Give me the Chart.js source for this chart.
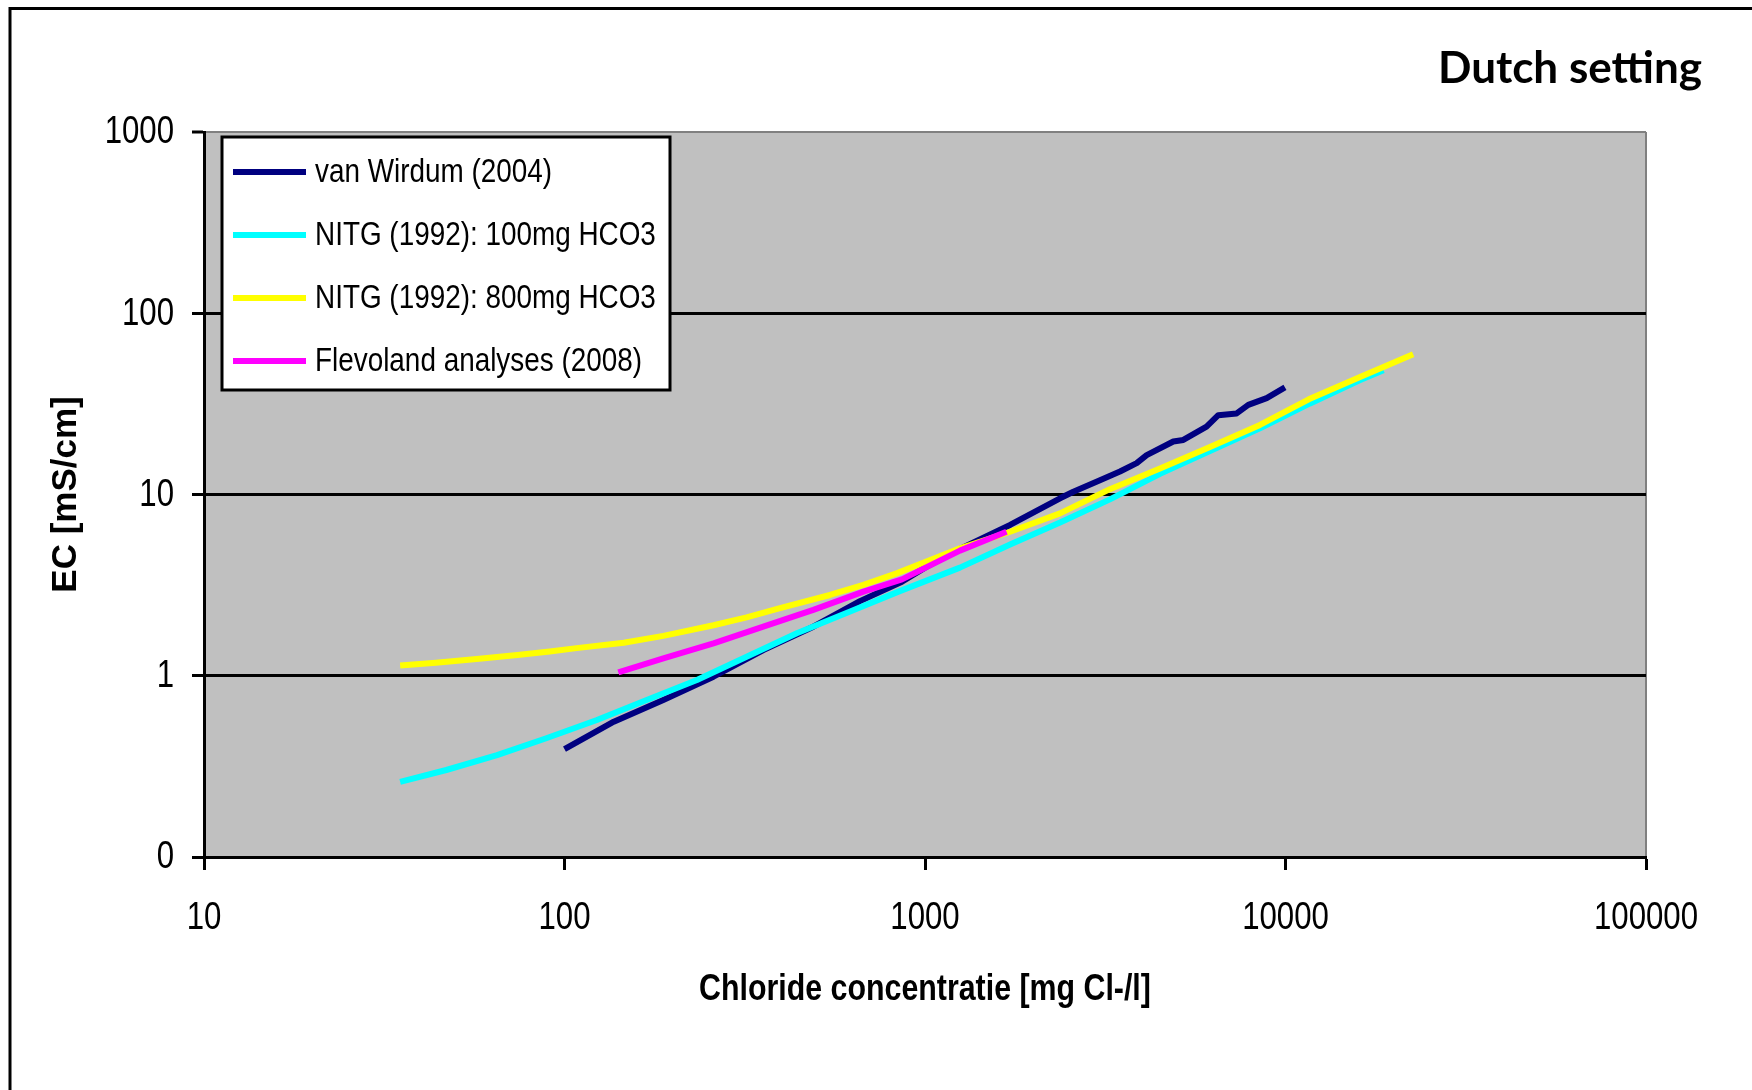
<!DOCTYPE html>
<html>
<head>
<meta charset="utf-8">
<title>Dutch setting</title>
<script src="https://cdn.jsdelivr.net/npm/chart.js@4.4.1/dist/chart.umd.min.js"></script>
<style>
  html, body { margin: 0; padding: 0; background: #fff; }
</style>
</head>
<body>
<canvas id="chart" width="1752" height="1090"></canvas>
<script>
// tick values and their labels (Excel shows 0.1 as "0")
const xTicks = [10, 100, 1000, 10000, 100000];
const xTickLabels = ['10', '100', '1000', '10000', '100000'];
const yTicks = [0.1, 1, 10, 100, 1000];
const yTickLabels = ['0', '1', '10', '100', '1000'];

const seriesNames = ['van Wirdum (2004)', 'NITG (1992): 100mg HCO3', 'NITG (1992): 800mg HCO3', 'Flevoland analyses (2008)'];

// van Wirdum (2004)
const wirdumCl = [100, 137, 188, 259, 356, 490, 660, 863, 1000, 1250, 1722, 2369, 2579, 3057, 3474, 3865, 4120, 4884, 5206, 6039, 6509, 7320, 7885, 8866, 9966];
const wirdumEC = [0.394, 0.558, 0.735, 0.988, 1.387, 1.865, 2.58, 3.3, 3.95, 5.0, 6.79, 9.53, 10.36, 12.0, 13.4, 14.9, 16.5, 19.6, 20.0, 23.7, 27.4, 28.0, 31.2, 34.0, 39.0];

// NITG (1992): 100mg HCO3
const nitg100Cl = [35, 47, 65, 89, 123, 169, 233, 320, 441, 620, 851, 1250, 1722, 2369, 3258, 4486, 6173, 8493, 11700, 16000, 18700];
const nitg100EC = [0.260, 0.302, 0.365, 0.452, 0.570, 0.735, 0.947, 1.274, 1.715, 2.26, 2.93, 3.95, 5.3, 7.0, 9.4, 13.0, 17.4, 23.2, 31.8, 42.5, 48.5];

// NITG (1992): 800mg HCO3
const nitg800Cl = [35, 44, 58, 74, 91, 108, 146, 188, 259, 320, 396, 545, 675, 834, 1250, 1722, 2369, 3258, 4486, 6173, 8493, 11600, 16100, 22600];
const nitg800EC = [1.14, 1.18, 1.24, 1.30, 1.36, 1.42, 1.52, 1.66, 1.90, 2.10, 2.36, 2.79, 3.17, 3.67, 5.05, 6.23, 7.87, 10.7, 13.9, 18.3, 24.2, 33.5, 44.5, 59.4];

// Flevoland analyses (2008)
const flevoCl = [141, 188, 259, 356, 490, 675, 863, 1250, 1683];
const flevoEC = [1.045, 1.248, 1.51, 1.865, 2.31, 2.91, 3.40, 4.9, 6.23];

const colors = ['#000080', '#00FFFF', '#FFFF00', '#FF00FF'];
const sans = "'Liberation Sans', Arial, sans-serif";

function pts(xs, ys) {
  return xs.map((x, i) => ({ x: x, y: ys[i] }));
}

// no narrow font installed, so squeeze Liberation Sans like Arial Narrow
function narrowText(ctx, text, x, y, align, font) {
  ctx.save();
  ctx.font = font;
  ctx.textAlign = align;
  ctx.textBaseline = 'middle';
  ctx.fillStyle = '#000';
  ctx.translate(x, y);
  ctx.scale(0.82, 1);
  ctx.fillText(text, 0, 0);
  ctx.restore();
}

const datasets = [
  { label: seriesNames[0], data: pts(wirdumCl, wirdumEC), borderColor: colors[0], order: 4 },
  { label: seriesNames[1], data: pts(nitg100Cl, nitg100EC), borderColor: colors[1], order: 3 },
  { label: seriesNames[2], data: pts(nitg800Cl, nitg800EC), borderColor: colors[2], order: 2 },
  { label: seriesNames[3], data: pts(flevoCl, flevoEC), borderColor: colors[3], order: 1 },
];

// background, frame, title, tick labels and the boxed legend inside the plot
const decor = {
  id: 'decor',
  beforeDraw(chart) {
    const { ctx, chartArea: a } = chart;
    ctx.save();
    ctx.fillStyle = '#C0C0C0';
    ctx.fillRect(a.left, a.top, a.right - a.left, a.bottom - a.top);
    // outer frame (cut off at right and bottom)
    ctx.strokeStyle = '#000';
    ctx.lineWidth = 3;
    ctx.beginPath();
    ctx.moveTo(10, 1090);
    ctx.lineTo(10, 8.5);
    ctx.lineTo(1752, 8.5);
    ctx.stroke();
    // right plot border
    ctx.strokeStyle = '#808080';
    ctx.lineWidth = 2;
    ctx.beginPath();
    ctx.moveTo(a.right, a.top);
    ctx.lineTo(a.right, a.bottom);
    ctx.stroke();
    // title
    ctx.fillStyle = '#000';
    ctx.font = "bold 44px Lato, 'Open Sans', sans-serif";
    ctx.textAlign = 'right';
    ctx.textBaseline = 'alphabetic';
    ctx.fillText('Dutch setting', 1702, 83);
    ctx.restore();
  },
  afterDraw(chart) {
    const ctx = chart.ctx;
    const a = chart.chartArea;
    const sx = chart.scales.x;
    const sy = chart.scales.y;

    // tick labels
    sx.ticks.forEach((t, i) => {
      narrowText(ctx, xTickLabels[i], sx.getPixelForValue(t.value), a.bottom + 62, 'center', '38px ' + sans);
    });
    sy.ticks.forEach((t, i) => {
      narrowText(ctx, yTickLabels[i], a.left - 30, sy.getPixelForValue(t.value) + 1, 'right', '38px ' + sans);
    });
    // x axis title
    narrowText(ctx, 'Chloride concentratie [mg Cl-/l]', (a.left + a.right) / 2, 990, 'center', 'bold 37px ' + sans);

    // legend
    ctx.save();
    ctx.fillStyle = '#fff';
    ctx.fillRect(222, 137, 448, 253);
    ctx.strokeStyle = '#000';
    ctx.lineWidth = 3;
    ctx.strokeRect(222, 137, 448, 253);
    chart.data.datasets.forEach((ds, i) => {
      const y = 172 + i * 63;
      ctx.strokeStyle = ds.borderColor;
      ctx.lineWidth = 6;
      ctx.beginPath();
      ctx.moveTo(233, y);
      ctx.lineTo(306, y);
      ctx.stroke();
      narrowText(ctx, ds.label, 315, y + 1, 'left', '34px ' + sans);
    });
    ctx.restore();
  }
};

new Chart(document.getElementById('chart'), {
  type: 'line',
  data: { datasets: datasets },
  options: {
    responsive: false,
    animation: false,
    devicePixelRatio: 1,
    layout: { padding: { top: 132, right: 106, left: 0, bottom: 0 } },
    elements: {
      point: { radius: 0 },
      line: { tension: 0, borderWidth: 6, borderCapStyle: 'butt', borderJoinStyle: 'round', fill: false }
    },
    plugins: {
      legend: { display: false },
      tooltip: { enabled: false },
      title: { display: false }
    },
    scales: {
      x: {
        type: 'logarithmic',
        min: 10,
        max: 100000,
        afterBuildTicks: s => { s.ticks = xTicks.map(v => ({ value: v })); },
        afterFit: s => { s.height = 233; },
        ticks: { display: false },
        grid: { drawOnChartArea: false, drawTicks: true, tickLength: 13, tickColor: '#000', tickWidth: 3 },
        border: { display: true, color: '#000', width: 3 }
      },
      y: {
        type: 'logarithmic',
        min: 0.1,
        max: 1000,
        afterBuildTicks: s => { s.ticks = yTicks.map(v => ({ value: v })); },
        afterFit: s => { s.width = 204; },
        ticks: { display: false },
        grid: {
          color: c => (c.tick && c.tick.value === 1000 ? '#808080' : '#000'),
          lineWidth: c => (c.tick && c.tick.value === 1000 ? 2 : 3),
          tickLength: 12,
          tickColor: '#000',
          tickWidth: 3
        },
        border: { display: true, color: '#000', width: 3 },
        title: {
          display: true,
          text: 'EC [mS/cm]',
          color: '#000',
          font: { family: sans, size: 35, weight: 'bold', lineHeight: 1 },
          padding: { top: 49, bottom: 0 }
        }
      }
    }
  },
  plugins: [decor]
});
</script>
</body>
</html>
